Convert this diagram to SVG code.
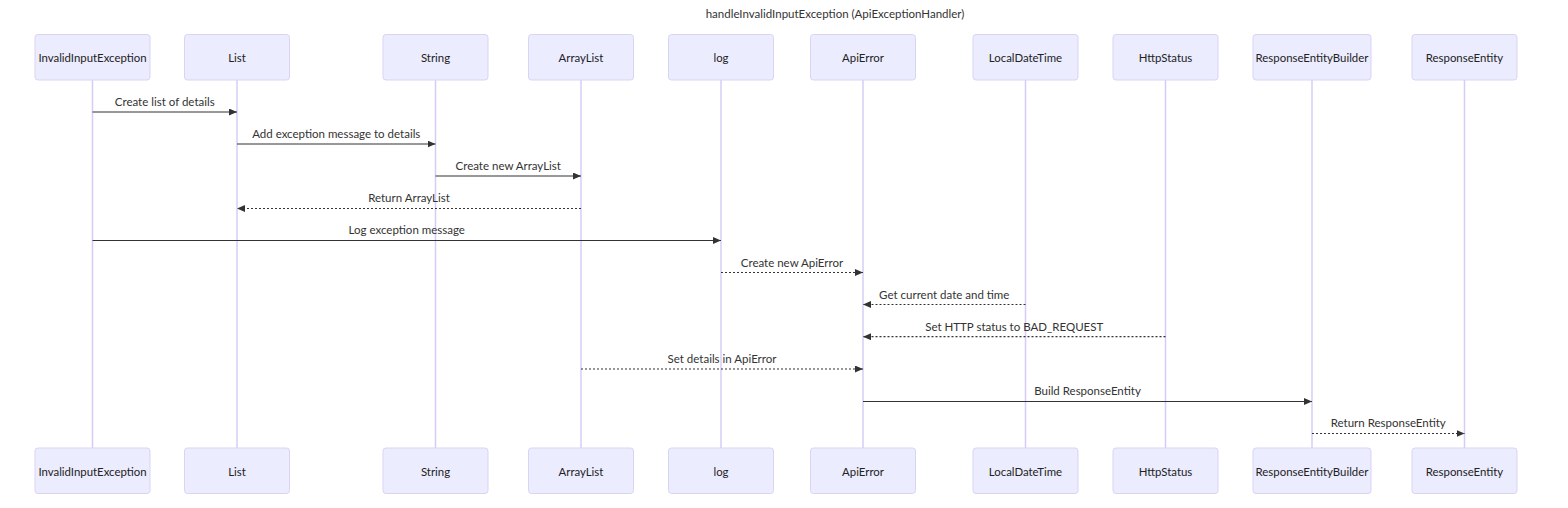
<svg xmlns="http://www.w3.org/2000/svg" width="1568" height="508" viewBox="0 0 1568 508">
<defs>
<style>
.actor{fill:#ECECFF;stroke:#D9D3F5;stroke-width:1}
.lbl{font-family:Lato,"Liberation Sans",sans-serif;font-size:11.4px;fill:#222;text-anchor:middle;dominant-baseline:central}
.life{stroke:#D6CCF5;stroke-width:1.5}
.msg{stroke:#333;stroke-width:1.2;fill:none}
.dot{stroke-dasharray:2,2}
.mt{font-family:Lato,"Liberation Sans",sans-serif;font-size:11.5px;fill:#333;text-anchor:middle;dominant-baseline:central}
.title{font-family:Lato,"Liberation Sans",sans-serif;font-size:11.5px;fill:#333;text-anchor:middle;dominant-baseline:central}
</style>
<marker id="ah" markerUnits="userSpaceOnUse" markerWidth="8" markerHeight="7" refX="8" refY="3.5" orient="auto">
<path d="M0,0 L8,3.5 L0,7 z" fill="#333"/>
</marker>
</defs>
<rect width="1568" height="508" fill="#fff"/>
<text class="title" x="835" y="13.5">handleInvalidInputException (ApiExceptionHandler)</text>

<g id="lifelines">
<line class="life" x1="92.5" y1="80" x2="92.5" y2="448"/>
<line class="life" x1="237" y1="80" x2="237" y2="448"/>
<line class="life" x1="435.5" y1="80" x2="435.5" y2="448"/>
<line class="life" x1="581" y1="80" x2="581" y2="448"/>
<line class="life" x1="721" y1="80" x2="721" y2="448"/>
<line class="life" x1="863" y1="80" x2="863" y2="448"/>
<line class="life" x1="1025.5" y1="80" x2="1025.5" y2="448"/>
<line class="life" x1="1165.5" y1="80" x2="1165.5" y2="448"/>
<line class="life" x1="1312" y1="80" x2="1312" y2="448"/>
<line class="life" x1="1464.5" y1="80" x2="1464.5" y2="448"/>
</g>

<g id="InvalidInputException">
<rect class="actor" x="35" y="34.5" width="115" height="45.5" rx="3"/><text class="lbl" x="92.5" y="57.5">InvalidInputException</text>
<rect class="actor" x="35" y="448" width="115" height="45.5" rx="3"/><text class="lbl" x="92.5" y="471">InvalidInputException</text>
</g>
<g id="List">
<rect class="actor" x="184.5" y="34.5" width="105" height="45.5" rx="3"/><text class="lbl" x="237" y="57.5">List</text>
<rect class="actor" x="184.5" y="448" width="105" height="45.5" rx="3"/><text class="lbl" x="237" y="471">List</text>
</g>
<g id="String">
<rect class="actor" x="383" y="34.5" width="105" height="45.5" rx="3"/><text class="lbl" x="435.5" y="57.5">String</text>
<rect class="actor" x="383" y="448" width="105" height="45.5" rx="3"/><text class="lbl" x="435.5" y="471">String</text>
</g>
<g id="ArrayList">
<rect class="actor" x="528.5" y="34.5" width="105" height="45.5" rx="3"/><text class="lbl" x="581" y="57.5">ArrayList</text>
<rect class="actor" x="528.5" y="448" width="105" height="45.5" rx="3"/><text class="lbl" x="581" y="471">ArrayList</text>
</g>
<g id="log">
<rect class="actor" x="668.5" y="34.5" width="105" height="45.5" rx="3"/><text class="lbl" x="721" y="57.5">log</text>
<rect class="actor" x="668.5" y="448" width="105" height="45.5" rx="3"/><text class="lbl" x="721" y="471">log</text>
</g>
<g id="ApiError">
<rect class="actor" x="810.5" y="34.5" width="105" height="45.5" rx="3"/><text class="lbl" x="863" y="57.5">ApiError</text>
<rect class="actor" x="810.5" y="448" width="105" height="45.5" rx="3"/><text class="lbl" x="863" y="471">ApiError</text>
</g>
<g id="LocalDateTime">
<rect class="actor" x="973" y="34.5" width="105" height="45.5" rx="3"/><text class="lbl" x="1025.5" y="57.5">LocalDateTime</text>
<rect class="actor" x="973" y="448" width="105" height="45.5" rx="3"/><text class="lbl" x="1025.5" y="471">LocalDateTime</text>
</g>
<g id="HttpStatus">
<rect class="actor" x="1113" y="34.5" width="105" height="45.5" rx="3"/><text class="lbl" x="1165.5" y="57.5">HttpStatus</text>
<rect class="actor" x="1113" y="448" width="105" height="45.5" rx="3"/><text class="lbl" x="1165.5" y="471">HttpStatus</text>
</g>
<g id="ResponseEntityBuilder">
<rect class="actor" x="1253" y="34.5" width="118" height="45.5" rx="3"/><text class="lbl" x="1312" y="57.5">ResponseEntityBuilder</text>
<rect class="actor" x="1253" y="448" width="118" height="45.5" rx="3"/><text class="lbl" x="1312" y="471">ResponseEntityBuilder</text>
</g>
<g id="ResponseEntity">
<rect class="actor" x="1412" y="34.5" width="105" height="45.5" rx="3"/><text class="lbl" x="1464.5" y="57.5">ResponseEntity</text>
<rect class="actor" x="1412" y="448" width="105" height="45.5" rx="3"/><text class="lbl" x="1464.5" y="471">ResponseEntity</text>
</g>

<g id="connectors">
<line class="msg" x1="92.5" y1="112" x2="237" y2="112" marker-end="url(#ah)"/>
<text class="mt" x="164.75" y="101">Create list of details</text>
<line class="msg" x1="237" y1="144" x2="435.5" y2="144" marker-end="url(#ah)"/>
<text class="mt" x="336.25" y="133">Add exception message to details</text>
<line class="msg" x1="435.5" y1="176" x2="581" y2="176" marker-end="url(#ah)"/>
<text class="mt" x="508.25" y="165">Create new ArrayList</text>
<line class="msg dot" x1="581" y1="208.5" x2="237" y2="208.5" marker-end="url(#ah)"/>
<text class="mt" x="409" y="197">Return ArrayList</text>
<line class="msg" x1="92.5" y1="240.5" x2="721" y2="240.5" marker-end="url(#ah)"/>
<text class="mt" x="406.75" y="229">Log exception message</text>
<line class="msg dot" x1="721" y1="272.5" x2="863" y2="272.5" marker-end="url(#ah)"/>
<text class="mt" x="792" y="262">Create new ApiError</text>
<line class="msg dot" x1="1025.5" y1="304.5" x2="863" y2="304.5" marker-end="url(#ah)"/>
<text class="mt" x="944.25" y="294">Get current date and time</text>
<line class="msg dot" x1="1165.5" y1="336.7" x2="863" y2="336.7" marker-end="url(#ah)"/>
<text class="mt" x="1014.25" y="326">Set HTTP status to BAD_REQUEST</text>
<line class="msg dot" x1="581" y1="369" x2="863" y2="369" marker-end="url(#ah)"/>
<text class="mt" x="722" y="358">Set details in ApiError</text>
<line class="msg" x1="863" y1="401.5" x2="1312" y2="401.5" marker-end="url(#ah)"/>
<text class="mt" x="1087.5" y="390.5">Build ResponseEntity</text>
<line class="msg dot" x1="1312" y1="433.5" x2="1464.5" y2="433.5" marker-end="url(#ah)"/>
<text class="mt" x="1388.25" y="422.5">Return ResponseEntity</text>
</g>
</svg>
